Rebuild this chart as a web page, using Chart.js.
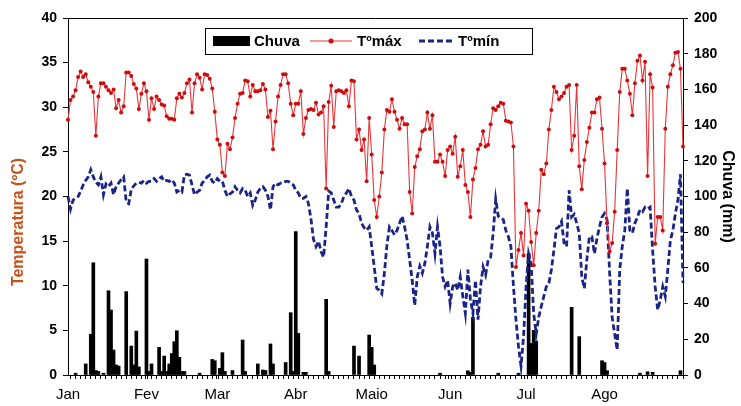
<!DOCTYPE html>
<html><head><meta charset="utf-8">
<script src="https://cdn.jsdelivr.net/npm/chart.js@4.4.1/dist/chart.umd.min.js"></script>
<style>html,body{margin:0;padding:0;background:#fff;}#wrap{width:741px;height:406px;position:relative;}</style>
</head><body><div id="wrap"><canvas id="c"></canvas></div>
<script>
// ---- data ----
const monthLabels = ['Jan','Fev','Mar','Abr','Maio','Jun','Jul','Ago'];
const monthStartDay = [0,31,59,90,120,151,181,212];
const tempRange = [0, 40, 5];     // min, max, step (left axis)
const rainRange = [0, 200, 20];   // min, max, step (right axis)
const seriesNames = ['Chuva', 'Tºmáx', 'Tºmín'];

// daily maximum temperature (ºC), 1 Jan .. 1 Sep
const tMax = [
28.6,30.8,31.2,31.9,33.4,34.0,33.4,33.7,32.8,32.3,
31.7,26.8,31.2,32.7,32.7,32.3,31.9,31.6,32.0,29.9,
30.8,29.4,30.1,33.9,33.9,33.5,32.6,32.1,29.8,31.5,
32.7,31.8,28.6,31.0,29.8,31.2,30.8,30.3,30.2,29.0,
28.7,28.7,28.6,31.0,31.5,31.1,31.6,32.7,33.1,29.4,
32.7,33.7,33.3,32.0,33.7,33.6,33.2,32.1,29.5,26.4,
25.8,22.7,22.3,25.9,25.3,26.6,28.8,30.4,31.5,31.6,
33.0,32.9,31.2,32.5,31.8,31.8,31.9,32.6,32.0,28.9,
29.6,25.3,28.4,31.2,32.5,33.7,33.7,32.7,30.4,29.1,
30.4,30.4,31.8,27.0,28.8,29.7,29.8,29.7,30.5,29.2,
29.4,30.1,20.9,30.6,32.4,27.8,31.8,31.9,31.8,31.6,
31.9,30.1,33.0,32.9,26.4,27.5,25.2,26.4,21.7,28.8,
24.7,19.6,17.7,20.0,22.7,27.5,29.7,29.5,30.9,29.5,
28.6,27.6,28.8,28.1,28.1,20.5,18.1,23.3,24.5,25.3,
27.3,27.5,29.4,27.6,29.1,23.9,23.9,24.7,23.9,22.3,
25.2,25.6,24.8,26.7,22.2,23.4,25.2,21.3,20.5,17.7,
21.9,23.2,25.3,25.8,27.3,25.6,25.8,28.1,29.9,29.7,
30.1,30.5,30.4,28.5,28.4,28.3,25.6,12.1,14.0,15.9,
13.4,19.2,18.4,14.9,12.3,15.9,18.4,23.0,22.5,23.7,
27.5,29.7,32.3,31.7,30.9,31.2,31.6,32.3,32.5,25.2,
26.8,32.5,23.4,20.8,24.1,26.1,27.7,29.4,29.4,30.9,
31.1,27.6,23.7,17.0,13.8,14.8,18.3,25.2,31.7,34.3,
34.3,33.0,31.5,29.1,32.7,35.2,35.8,33.0,35.1,22.3,
33.7,32.2,14.7,17.7,17.7,16.2,27.6,32.3,33.7,34.7,
36.1,36.2,34.3,25.6];

// daily minimum temperature (ºC)
const tMin = [
20.0,18.6,19.6,19.8,20.0,20.6,21.3,21.8,22.2,23.0,
22.2,21.6,21.3,22.2,20.2,21.4,21.1,21.5,20.2,21.1,
21.5,21.9,22.2,19.4,19.2,20.8,21.2,21.5,21.6,21.5,
21.8,21.5,21.7,21.7,22.0,21.7,22.0,22.2,21.7,21.8,
21.7,21.9,21.5,20.5,20.7,20.5,22.4,22.5,22.4,21.3,
20.2,20.5,20.7,21.5,21.8,22.2,22.4,21.7,21.5,22.0,
21.7,21.7,20.7,20.0,20.3,20.5,21.1,20.7,20.4,20.9,
20.7,20.0,20.4,19.0,19.6,20.5,20.9,21.1,20.7,20.0,
18.5,21.1,21.5,21.3,21.5,21.5,21.7,21.7,21.5,21.3,
20.7,20.4,19.8,19.8,20.0,19.2,17.5,15.2,14.4,15.0,
13.8,13.2,16.6,20.6,20.4,19.6,18.8,18.8,19.2,20.0,
20.4,20.9,20.0,19.6,18.5,18.1,17.0,16.5,16.2,16.6,
14.4,12.1,9.7,9.5,9.1,11.4,14.5,16.6,16.2,15.7,
16.2,17.0,17.8,16.6,15.1,12.9,10.6,7.8,11.0,12.2,
11.4,12.5,14.4,16.6,15.9,13.6,16.6,14.4,11.0,9.9,
10.6,8.0,9.9,10.3,9.5,11.0,8.8,6.9,11.8,8.5,
6.9,10.6,6.2,9.9,12.1,11.2,12.9,13.2,15.9,19.7,
17.8,17.6,17.4,16.2,15.5,14.4,10.0,6.2,3.2,1.0,
4.3,9.9,13.6,12.5,6.9,4.6,6.5,7.7,8.8,9.9,
10.3,11.8,14.0,16.4,16.6,17.2,14.8,14.4,20.7,17.7,
18.0,17.0,15.9,11.0,9.7,12.9,15.5,15.5,13.6,15.3,
16.6,17.7,18.1,17.4,11.5,6.5,4.6,2.8,11.8,14.4,
16.2,20.9,16.2,15.9,17.0,17.7,18.5,18.3,18.8,18.6,
18.8,14.0,9.9,7.3,8.4,9.9,8.8,11.8,15.1,16.2,
18.1,19.6,22.5,10.3];

// rainfall (mm): day index and amount
const rainDays = [3,7,9,10,11,12,14,16,17,18,19,20,23,25,26,27,28,31,32,33,36,37,38,39,40,41,42,43,44,45,
46,52,57,58,60,61,62,65,69,70,75,77,78,80,81,86,88,89,90,91,93,94,102,103,113,115,119,120,121,147,
158,159,160,170,178,182,183,184,185,199,202,211,212,213,226,229,231,242];
const rainMm = [1,6.2,22.8,62.9,2.5,2,1,47.2,36.4,14,5.6,5,46.7,16.2,5.6,24.6,4.5,65,2,6.2,15.5,2,10.6,2,6.2,12,18.7,24.8,9.9,2,
2,1,8.7,8,3.7,12.5,2,2.5,19.6,2,6.2,2.8,2.5,17.4,6.2,7,34.9,2,80.3,23.3,1.5,1.5,42.4,2,16.2,10.6,22.4,15.5,5.6,1,
2.4,1.5,32.3,1,1,68,17.7,25,19,37.9,21.5,8,7,2.4,1,1.8,1.5,2.4];

// ---- chart ----
const FONT = '"Liberation Sans", Arial, sans-serif';
const lastDay = tMax.length - 1;
const xTickValues = [];
for (let d = 0; d <= lastDay; d += 2) xTickValues.push(d);
monthStartDay.forEach(d => { if (!xTickValues.includes(d)) xTickValues.push(d); });
xTickValues.sort((a,b)=>a-b);

const topBorder = {
  id: 'topBorder',
  afterDraw(chart) {
    const {ctx, chartArea:a} = chart;
    ctx.save(); ctx.strokeStyle = '#000'; ctx.lineWidth = 1;
    ctx.beginPath(); ctx.moveTo(a.left, a.top + 0.5); ctx.lineTo(a.right, a.top + 0.5); ctx.stroke();
    ctx.restore();
  }
};

// left axis title, drawn a little below the axis centre as in the original
const leftTitle = {
  id: 'leftTitle',
  afterDraw(chart) {
    const t = chart.scales.y.options.title;
    const ctx = chart.ctx;
    ctx.save();
    ctx.translate(19, 222); ctx.rotate(-Math.PI / 2);
    ctx.font = 'bold 16px ' + FONT; ctx.fillStyle = t.color;
    ctx.textAlign = 'center'; ctx.textBaseline = 'middle';
    ctx.fillText(t.text, 0, 0);
    ctx.restore();
  }
};

const legendBox = {
  id: 'legendBox',
  afterDraw(chart) {
    const ctx = chart.ctx, ds = chart.data.datasets;
    const x0 = 205, y0 = 28, w = 327, h = 26, cy = y0 + h/2;
    ctx.save();
    ctx.fillStyle = '#fff'; ctx.fillRect(x0, y0, w, h);
    ctx.strokeStyle = '#000'; ctx.lineWidth = 1; ctx.strokeRect(x0 + 0.5, y0 + 0.5, w, h);
    ctx.font = 'bold 15px ' + FONT; ctx.textBaseline = 'middle'; ctx.textAlign = 'left';
    ctx.fillStyle = ds[0].backgroundColor; ctx.fillRect(213, cy - 5, 37, 10);
    ctx.fillStyle = '#000'; ctx.fillText(ds[0].label, 254, cy + 1);
    ctx.strokeStyle = ds[1].borderColor; ctx.lineWidth = 1;
    ctx.beginPath(); ctx.moveTo(310, cy); ctx.lineTo(352, cy); ctx.stroke();
    ctx.fillStyle = ds[1].pointBackgroundColor; ctx.beginPath(); ctx.arc(331, cy, 2.5, 0, Math.PI*2); ctx.fill();
    ctx.fillStyle = '#000'; ctx.fillText(ds[1].label, 357, cy + 1);
    ctx.strokeStyle = ds[2].borderColor; ctx.lineWidth = ds[2].borderWidth; ctx.setLineDash(ds[2].borderDash);
    ctx.beginPath(); ctx.moveTo(419, cy); ctx.lineTo(453, cy); ctx.stroke(); ctx.setLineDash([]);
    ctx.fillStyle = '#000'; ctx.fillText(ds[2].label, 458, cy + 1);
    ctx.restore();
  }
};

new Chart(document.getElementById('c'), {
  type: 'bar',
  data: {
    datasets: [
      { type: 'bar', label: seriesNames[0], yAxisID: 'y2', order: 3,
        data: rainDays.map((d,i)=>({x:d, y:rainMm[i]})),
        backgroundColor: '#000', barThickness: 3, borderWidth: 0 },
      { type: 'line', label: seriesNames[1], yAxisID: 'y', order: 1,
        data: tMax.map((v,i)=>({x:i, y:v})),
        borderColor: '#e8353a', borderWidth: 1.1, pointRadius: 2, pointHoverRadius: 2,
        pointBackgroundColor: '#cc0d0d', pointBorderWidth: 0, tension: 0, clip: 4 },
      { type: 'line', label: seriesNames[2], yAxisID: 'y', order: 2,
        data: tMin.map((v,i)=>({x:i, y:v})),
        borderColor: '#1b2585', borderWidth: 2.8, borderDash: [6,3], pointRadius: 0, tension: 0, clip: 4 }
    ]
  },
  options: {
    responsive: true, maintainAspectRatio: false, animation: false,
    layout: { padding: { top: 18, left: 0, right: 0, bottom: 0 } },
    plugins: { legend: { display: false }, tooltip: { enabled: false } },
    scales: {
      x: {
        type: 'linear', position: 'bottom', min: 0, max: lastDay, offset: false,
        afterBuildTicks: s => { s.ticks = xTickValues.map(v => ({value: v})); },
        afterFit: s => { s.height = 31; },
        grid: { display: true, drawOnChartArea: false, drawTicks: true, tickLength: 4, color: '#000' },
        border: { display: true, color: '#000', width: 1 },
        ticks: { autoSkip: false, maxRotation: 0, minRotation: 0, padding: 7, color: '#000',
          font: { family: FONT, size: 15 },
          callback: v => { const k = monthStartDay.indexOf(v); return k >= 0 ? monthLabels[k] : ''; } }
      },
      y: {
        type: 'linear', position: 'left', min: tempRange[0], max: tempRange[1],
        afterFit: s => { s.width = 68; },
        grid: { display: true, drawOnChartArea: false, tickLength: 5, color: '#000' },
        border: { display: true, color: '#000', width: 1 },
        ticks: { stepSize: tempRange[2], padding: 6, color: '#000', font: { family: FONT, size: 14, weight: 'bold' } },
        title: { display: false, text: 'Temperatura (ºC)', color: '#c4531d',
          font: { family: FONT, size: 16, weight: 'bold' } }
      },
      y2: {
        type: 'linear', position: 'right', min: rainRange[0], max: rainRange[1],
        afterFit: s => { s.width = 58; },
        grid: { display: true, drawOnChartArea: false, tickLength: 5, color: '#000' },
        border: { display: true, color: '#000', width: 1 },
        ticks: { stepSize: rainRange[2], padding: 6, color: '#000', font: { family: FONT, size: 14, weight: 'bold' } },
        title: { display: true, text: 'Chuva (mm)', color: '#000', padding: { top: 4, bottom: 0 },
          font: { family: FONT, size: 16, weight: 'bold' } }
      }
    }
  },
  plugins: [topBorder, leftTitle, legendBox]
});
</script>
</body></html>
